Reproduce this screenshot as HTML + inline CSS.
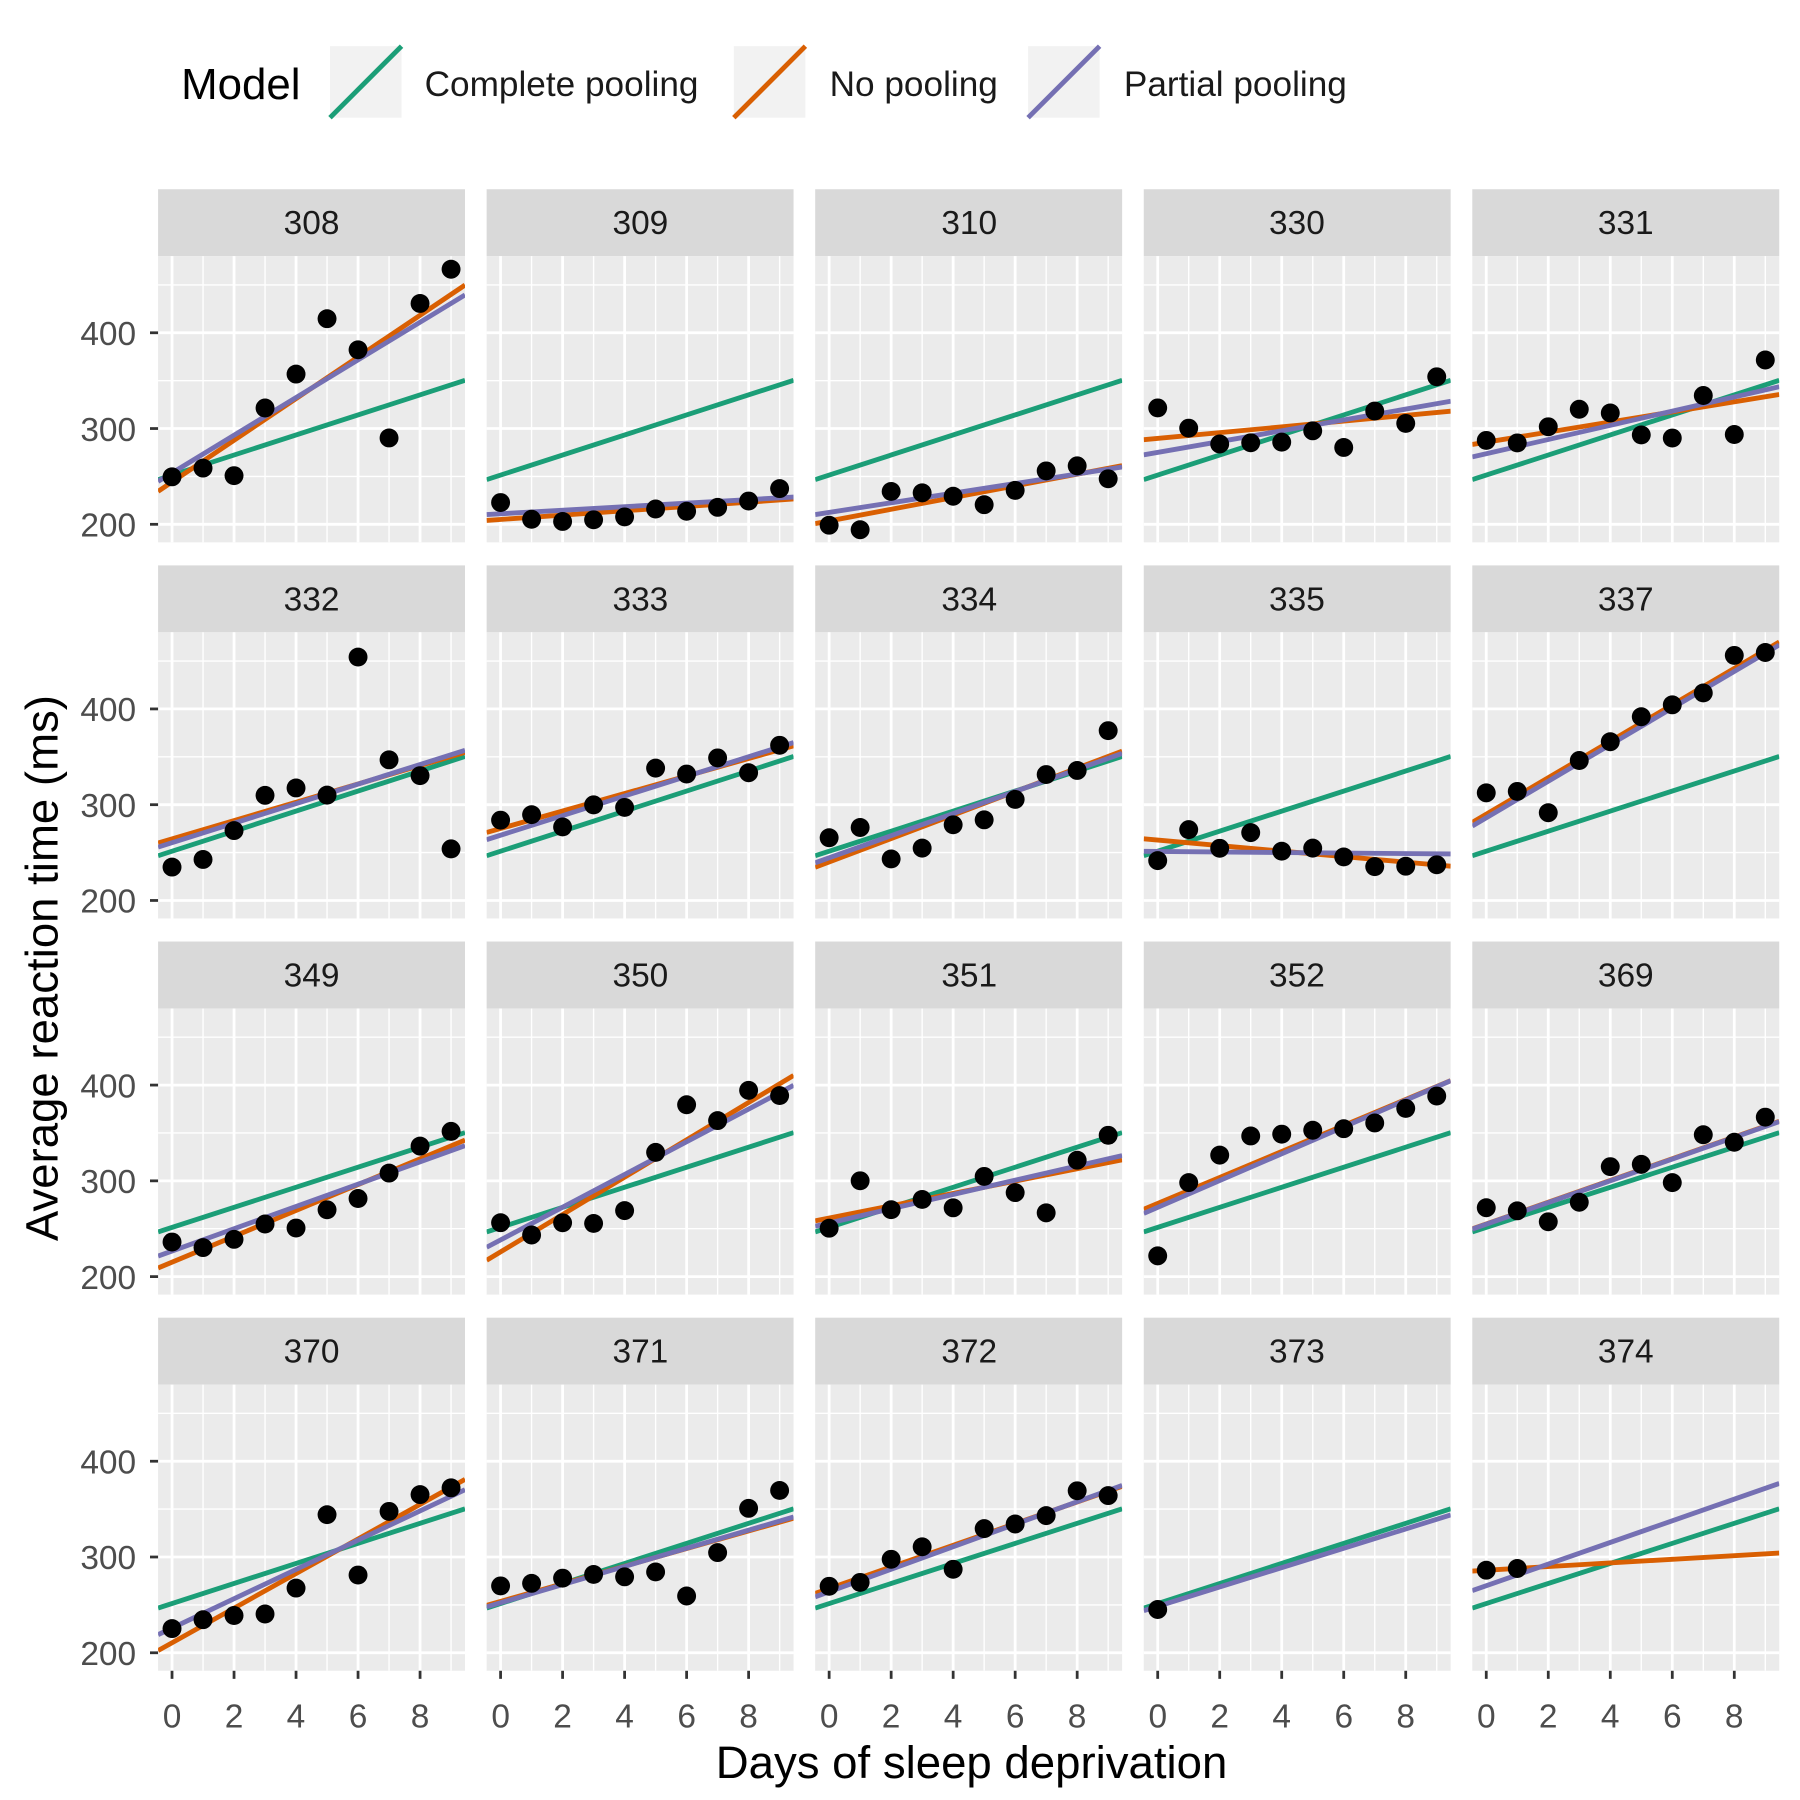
<!DOCTYPE html>
<html><head><meta charset="utf-8"><style>
html,body{margin:0;padding:0;background:#fff}
svg{display:block}
text{font-family:"Liberation Sans",Arial,sans-serif}
</style></head><body>
<svg id="s" width="1800" height="1800" viewBox="0 0 1560 1560" xmlns="http://www.w3.org/2000/svg">
<rect width="1560" height="1560" fill="#fff"/>
<g id="g"></g>
<!-- legend -->
<text x="157" y="86" font-size="38" fill="#000">Model</text>
<rect x="286" y="40" width="62" height="62" fill="#f2f2f2"/>
<line x1="286" y1="102" x2="348" y2="40" stroke="#1b9e77" stroke-width="4.2"/>
<text x="368" y="83" font-size="30.5" fill="#1a1a1a">Complete pooling</text>
<rect x="636" y="40" width="62" height="62" fill="#f2f2f2"/>
<line x1="636" y1="102" x2="698" y2="40" stroke="#d95f02" stroke-width="4.2"/>
<text x="719" y="83" font-size="30.5" fill="#1a1a1a">No pooling</text>
<rect x="891" y="40" width="62" height="62" fill="#f2f2f2"/>
<line x1="891" y1="102" x2="953" y2="40" stroke="#7570b3" stroke-width="4.2"/>
<text x="974" y="83" font-size="30.5" fill="#1a1a1a">Partial pooling</text>
<!-- strip labels -->
<g font-size="29" fill="#1a1a1a" text-anchor="middle">
<text x="270" y="203">308</text><text x="555" y="203">309</text><text x="840" y="203">310</text><text x="1124" y="203">330</text><text x="1409" y="203">331</text>
<text x="270" y="529">332</text><text x="555" y="529">333</text><text x="840" y="529">334</text><text x="1124" y="529">335</text><text x="1409" y="529">337</text>
<text x="270" y="855">349</text><text x="555" y="855">350</text><text x="840" y="855">351</text><text x="1124" y="855">352</text><text x="1409" y="855">369</text>
<text x="270" y="1181">370</text><text x="555" y="1181">371</text><text x="840" y="1181">372</text><text x="1124" y="1181">373</text><text x="1409" y="1181">374</text>
</g>
<!-- y tick labels -->
<g font-size="29" fill="#4d4d4d" text-anchor="end">
<text x="118" y="299">400</text><text x="118" y="382">300</text><text x="118" y="465">200</text>
<text x="118" y="625">400</text><text x="118" y="708">300</text><text x="118" y="791">200</text>
<text x="118" y="951">400</text><text x="118" y="1034">300</text><text x="118" y="1117">200</text>
<text x="118" y="1277">400</text><text x="118" y="1360">300</text><text x="118" y="1443">200</text>
</g>
<!-- x tick labels -->
<g font-size="29" fill="#4d4d4d" text-anchor="middle">
<text x="149.1" y="1497">0</text><text x="202.8" y="1497">2</text><text x="256.5" y="1497">4</text><text x="310.3" y="1497">6</text><text x="364" y="1497">8</text>
<text x="433.9" y="1497">0</text><text x="487.6" y="1497">2</text><text x="541.3" y="1497">4</text><text x="595.1" y="1497">6</text><text x="648.8" y="1497">8</text>
<text x="718.6" y="1497">0</text><text x="772.3" y="1497">2</text><text x="826" y="1497">4</text><text x="879.8" y="1497">6</text><text x="933.5" y="1497">8</text>
<text x="1003.4" y="1497">0</text><text x="1057.1" y="1497">2</text><text x="1110.8" y="1497">4</text><text x="1164.6" y="1497">6</text><text x="1218.3" y="1497">8</text>
<text x="1288.1" y="1497">0</text><text x="1341.8" y="1497">2</text><text x="1395.5" y="1497">4</text><text x="1449.3" y="1497">6</text><text x="1503" y="1497">8</text>
</g>
<text x="842" y="1541" font-size="39.5" fill="#000" text-anchor="middle">Days of sleep deprivation</text>
<text transform="translate(50,839) rotate(-90)" font-size="39.5" fill="#000" text-anchor="middle">Average reaction time (ms)</text>
</svg>
<script>
var NS="http://www.w3.org/2000/svg",G=document.getElementById("g");
function el(t,a){var e=document.createElementNS(NS,t);for(var k in a)e.setAttribute(k,a[k]);G.appendChild(e);return e;}
var W=266,H=248,K=26.87;
var D=[
[[249.56,258.70,250.80,321.44,356.85,414.69,382.20,290.15,430.59,466.35],[244.19,21.76],[253.66,19.67]],
[[222.73,205.27,202.98,204.71,207.72,215.96,213.63,217.73,224.30,237.31],[205.06,2.26],[211.01,1.85]],
[[199.05,194.33,234.32,232.84,229.31,220.46,235.42,255.75,261.01,247.52],[203.48,6.11],[212.44,5.02]],
[[321.54,300.40,283.86,285.13,285.80,297.59,280.24,318.26,305.35,354.05],[289.69,3.01],[275.10,5.65]],
[[287.61,285.00,301.82,320.12,316.28,293.32,290.08,334.48,293.75,371.58],[285.74,5.27],[273.73,7.40]],
[[234.86,242.81,272.96,309.77,317.46,309.99,454.16,346.83,330.30,253.86],[264.25,9.57],[260.33,10.20]],
[[283.84,289.56,276.77,299.80,297.17,338.17,332.02,348.84,333.36,362.04],[275.10,9.14],[268.12,10.24]],
[[265.48,276.20,243.36,254.67,279.02,284.19,305.53,331.50,335.75,377.30],[240.16,12.25],[244.53,11.54]],
[[241.61,273.95,254.49,270.84,251.45,254.64,245.45,235.31,235.75,237.25],[263.04,-2.88],[251.21,-0.28]],
[[312.36,313.88,291.61,346.12,365.73,391.84,404.26,416.69,455.86,458.92],[290.10,19.03],[286.30,19.10]],
[[236.10,230.32,238.92,254.92,250.71,269.77,281.56,308.10,336.28,351.65],[215.11,13.49],[226.70,11.64]],
[[256.29,243.46,256.20,255.53,268.92,329.72,379.44,362.91,394.49,389.05],[225.83,19.50],[238.34,17.08]],
[[250.53,300.06,269.89,280.58,271.83,304.63,287.75,266.56,321.54,347.57],[261.15,6.43],[255.98,7.45]],
[[221.68,298.19,326.88,346.86,348.74,352.83,354.43,360.43,375.64,388.54],[276.37,13.57],[272.26,14.00]],
[[271.92,268.70,257.24,277.66,314.82,317.21,298.14,348.12,340.28,366.51],[254.97,11.35],[254.68,11.34]],
[[225.26,234.52,238.90,240.47,267.54,344.19,281.15,347.59,365.16,372.23],[210.45,18.06],[225.82,15.29]],
[[269.8,272.5,277.9,281.8,279.3,284.4,259.3,304.6,350.8,369.5],[253.64,9.19],[252.21,9.48]],
[[269.41,273.47,297.60,310.63,287.17,329.61,334.48,343.22,369.14,364.12],[267.05,11.30],[263.72,11.75]],
[[245.2],null,[248.5,10.1]],
[[286.2,288.0],[286.2,1.9],[270.0,11.3]]
];
for(var i=0;i<20;i++){
 var r=Math.floor(i/5),c=i%5,L=137+c*284.75,T=222+326*r;
 el("rect",{x:L,y:T-58,width:W,height:58,fill:"#d9d9d9"});
 el("rect",{x:L,y:T,width:W,height:H,fill:"#ebebeb"});
 var X=function(d){return L+(d+0.45)*K;},Y=function(v){return T+(480-v)*0.83;};
 [250,350,450].forEach(function(v){el("line",{x1:L,x2:L+W,y1:Y(v),y2:Y(v),stroke:"#fff","stroke-width":1.2});});
 [1,3,5,7,9].forEach(function(d){el("line",{x1:X(d),x2:X(d),y1:T,y2:T+H,stroke:"#fff","stroke-width":1.2});});
 [200,300,400].forEach(function(v){el("line",{x1:L,x2:L+W,y1:Y(v),y2:Y(v),stroke:"#fff","stroke-width":2.4});});
 [0,2,4,6,8].forEach(function(d){el("line",{x1:X(d),x2:X(d),y1:T,y2:T+H,stroke:"#fff","stroke-width":2.4});});
 if(c==0)[200,300,400].forEach(function(v){el("line",{x1:130,x2:137,y1:Y(v),y2:Y(v),stroke:"#333","stroke-width":2.4});});
 if(r==3)[0,2,4,6,8].forEach(function(d){el("line",{x1:X(d),x2:X(d),y1:T+H,y2:T+H+7,stroke:"#333","stroke-width":2.4});});
 var svgc=el("svg",{x:L,y:T,width:W,height:H,viewBox:"0 0 "+W+" "+H,overflow:"hidden"});
 function ln(p,col){if(!p)return;var a=-0.45,b=9.45;var e=document.createElementNS(NS,"line");
  e.setAttribute("x1",(a+0.45)*K);e.setAttribute("x2",(b+0.45)*K);
  e.setAttribute("y1",(480-(p[0]+p[1]*a))*0.83);e.setAttribute("y2",(480-(p[0]+p[1]*b))*0.83);
  e.setAttribute("stroke",col);e.setAttribute("stroke-width",4.2);svgc.appendChild(e);}
 ln([251.4,10.47],"#1b9e77");ln(D[i][1],"#d95f02");ln(D[i][2],"#7570b3");
 D[i][0].forEach(function(v,d){el("circle",{cx:X(d),cy:Y(v),r:8.2,fill:"#000"});});
}
</script>
</body></html>
